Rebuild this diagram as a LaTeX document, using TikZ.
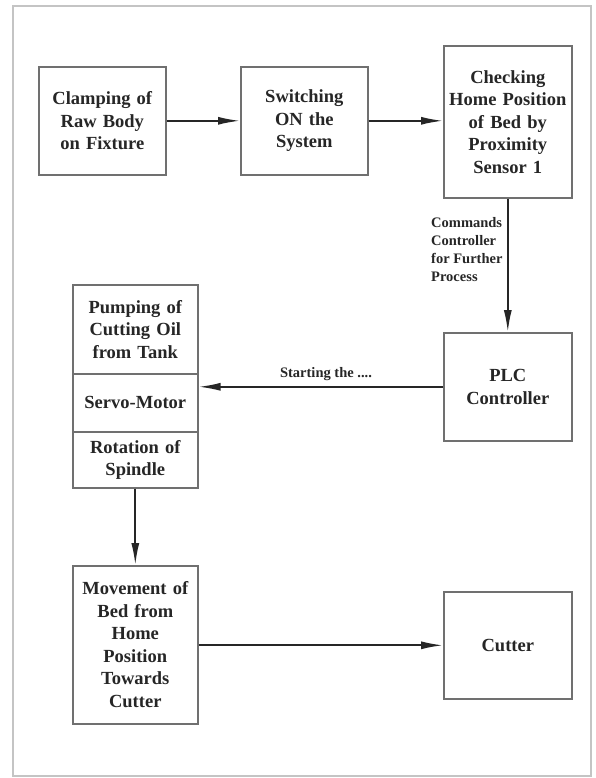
\documentclass[tikz,border=0pt]{standalone}
\usepackage{fontspec}
\setmainfont{Liberation Serif}
\usetikzlibrary{arrows.meta}
\definecolor{boxgray}{HTML}{707070}
\definecolor{framegray}{HTML}{C4C4C4}
\definecolor{inkc}{HTML}{262626}
\tikzset{
  blk/.style={draw=boxgray, line width=1.6pt, anchor=north west, inner sep=0pt,
    align=center, text=inkc, font=\bfseries\fontsize{18.5}{22.5}\selectfont},
  conn/.style={draw=inkc, line width=1.8pt, -{Latex[length=22pt,width=8pt]}},
  lbl/.style={text=inkc, inner sep=0pt, font=\bfseries\fontsize{14.5}{18}\selectfont}
}
\begin{document}
\begin{tikzpicture}[x=1pt,y=-1pt]
\useasboundingbox (0,0) rectangle (595,778);
\fill[white] (0,0) rectangle (595,778);
\draw[framegray, line width=1.8pt] (13,6) rectangle (591,776);
% top row
\node[blk, minimum width=127pt, minimum height=108pt, text width=120pt] (b1) at (38,66) {Clamping of\\Raw Body\\on Fixture};
\node[blk, minimum width=127pt, minimum height=108pt, text width=120pt] (b2) at (240,66) {Switching\\ON the\\System};
\node[blk, minimum width=128pt, minimum height=152pt, text width=124pt] (b3) at (443,45) {Checking\\Home Position\\of Bed by\\Proximity\\Sensor 1};
% PLC
\node[blk, minimum width=128pt, minimum height=108pt, text width=124pt] (plc) at (443,332) {PLC\\Controller};
% stack
\node[blk, minimum width=125pt, minimum height=89pt, text width=120pt] (s1) at (72,284) {Pumping of\\Cutting Oil\\from Tank};
\node[blk, minimum width=125pt, minimum height=58pt, text width=120pt] (s2) at (72,373) {Servo-Motor};
\node[blk, minimum width=125pt, minimum height=56pt, text width=120pt] (s3) at (72,431) {Rotation of\\Spindle};
\coordinate (s2in) at ([yshift=16pt]s2.east);
% bottom row
\node[blk, minimum width=125pt, minimum height=158pt, text width=120pt] (mv) at (72,565) {Movement of\\Bed from\\Home\\Position\\Towards\\Cutter};
\node[blk, minimum width=128pt, minimum height=107pt, text width=124pt] (ct) at (443,591) {Cutter};
% connectors
\draw[conn] (b1.east) -- (b2.west);
\draw[conn] (b2.east) -- (b3.west |- b2.east);
\draw[conn] (b3.south) -- (plc.north);
\draw[conn] (plc.west |- s2in) -- (s2in);
\draw[conn] (s3.south) -- (mv.north);
\draw[conn] (mv.east |- ct.west) -- (ct.west);
% labels
\node[lbl, anchor=north west, align=left] (l1) at (431,217) {Commands\\Controller\\for Further\\Process};
\node[lbl] (l2) at (326,374) {Starting the ....};
\end{tikzpicture}
\end{document}
